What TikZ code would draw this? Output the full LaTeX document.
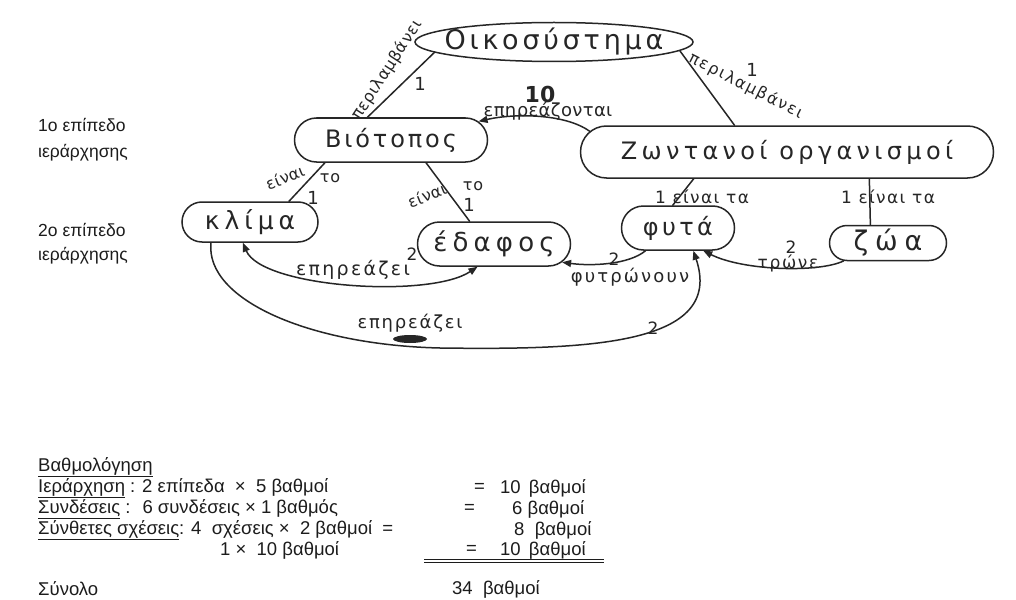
\documentclass[tikz,border=0pt]{standalone}
\usepackage{fontspec}
\setmainfont{Liberation Sans}
\newfontfamily\hand{DejaVu Sans}
\usetikzlibrary{shapes.geometric,shapes.misc,arrows.meta}
\definecolor{inkc}{HTML}{262626}
\definecolor{typec}{HTML}{1C1C1C}
\begin{document}
\begin{tikzpicture}[x=1pt,y=-1pt,
  ink/.style={draw=inkc,line width=1.5pt,line cap=round,line join=round},
  concept/.style={rounded rectangle,draw=inkc,line width=1.5pt,inner sep=0pt,text=inkc},
  hfont/.style 2 args={font=\hand\addfontfeature{LetterSpace=#2}\fontsize{#1}{#1}\selectfont},
  hlab/.style={inner sep=0pt,text=inkc},
  typed/.style={inner sep=0pt,anchor=west,text=typec,font=\fontsize{18.5}{21}\selectfont},
  caption/.style={typed,font=\fontsize{17.5}{20}\selectfont},
  toarrow/.style={-{Triangle[length=9pt,width=7pt]}},
  botharrow/.style={{Triangle[length=9pt,width=7pt]}-{Triangle[length=9pt,width=7pt]}},
]
\useasboundingbox[fill=white] (0,0) rectangle (1016,599);

% concepts
\node[ellipse,draw=inkc,line width=1.5pt,inner sep=0pt,text=inkc,hfont={27}{14},
      minimum width=278pt,minimum height=39pt] (oiko) at (554,42) {\makebox[0pt]{Οικοσύστημα}};
\node[concept,hfont={24}{12},minimum width=193pt,minimum height=44pt] (bio) at (391,140) {\makebox[0pt]{Βιότοπος}};
\node[concept,hfont={24}{18},minimum width=413pt,minimum height=52pt] (zoo) at (787,152) {\makebox[0pt]{Ζωντανοί οργανισμοί}};
\node[concept,hfont={25}{20},minimum width=136pt,minimum height=40pt] (klima) at (250,222) {\makebox[0pt]{κλίμα}};
\node[concept,hfont={26}{20},minimum width=153pt,minimum height=44pt] (edafos) at (494,244) {\makebox[0pt]{έδαφος}};
\node[concept,hfont={24}{14},minimum width=113pt,minimum height=44pt] (fyta) at (678,228) {\makebox[0pt]{φυτά}};
\node[concept,hfont={27}{25},minimum width=117pt,minimum height=35pt] (zwa) at (888,243) {\makebox[0pt]{ζώα}};

% hierarchy links
\draw[ink] (oiko.185) -- (bio.136);
\draw[ink] (oiko.-4) -- (zoo.153);
\draw[ink] (bio.199) -- (klima.28);
\draw[ink] (bio.-33) -- (edafos.137);
\draw[ink] (zoo.196.5) -- (fyta.103);
\draw[ink] (zoo.-18.4) -- (zwa.134);

% cross links
\draw[ink,toarrow] (zoo.174) .. controls +(-25,-18) and +(35,-8) .. (bio.12);
\draw[ink,botharrow] (edafos.234) .. controls +(-48,32) and +(19,45) .. (klima.251);
\draw[ink,toarrow] (fyta.215) .. controls +(-17,14) and +(29,4) .. (edafos.-15);
\draw[ink,toarrow] (zwa.202) .. controls +(-25,12) and +(40,20) .. (fyta.-42);
\coordinate (loopbot) at (440,348);
\draw[ink,toarrow] (klima.208) .. controls (205,300) and (310,345) .. (loopbot)
      .. controls (590,350) and (725,345) .. (fyta.-56);
\fill[inkc] (410,339) ellipse [x radius=17pt,y radius=4pt];

% link labels
\node[hlab,hfont={16}{4},rotate=57] (incl1) at (387,70) {περιλαμβάνει};
\node[hlab,hfont={16}{10},rotate=-27] (incl2) at (746,86) {περιλαμβάνει};
\node[hlab,hfont={18}{0}] (one1) at (420,84) {1};
\node[hlab,hfont={18}{0}] (one2) at (752,70) {1};
\node[hlab,font={\hand\bfseries\fontsize{22}{22}\selectfont}] (ten) at (540,94) {10};
\node[hlab,hfont={18}{2}] (aff1) at (548,111) {επηρεάζονται};
\node[hlab,hfont={16}{2},rotate=22] (is1) at (285,177) {είναι};
\node[hlab,hfont={16}{6}] (to1) at (330,178) {το};
\node[hlab,hfont={18}{0}] (one3) at (313,198) {1};
\node[hlab,hfont={16}{2},rotate=22] (is2) at (427,195) {είναι};
\node[hlab,hfont={16}{6}] (to2) at (473,186) {το};
\node[hlab,hfont={18}{0}] (one4) at (469,205) {1};
\node[hlab,hfont={17}{8}] (are1) at (702,197) {1 είναι τα};
\node[hlab,hfont={17}{8}] (are2) at (888,197) {1 είναι τα};
\node[hlab,hfont={19}{12}] (aff2) at (353,270) {επηρεάζει};
\node[hlab,hfont={17}{0}] (two1) at (412,254) {2};
\node[hlab,hfont={18}{12}] (grow) at (630,277) {φυτρώνουν};
\node[hlab,hfont={17}{0}] (two2) at (614,259) {2};
\node[hlab,hfont={17}{10}] (eat) at (788,263) {τρώνε};
\node[hlab,hfont={17}{0}] (two3) at (791,247) {2};
\node[hlab,hfont={18}{10}] (aff3) at (410,323) {επηρεάζει};
\node[hlab,hfont={17}{0}] (two4) at (653,328) {2};

% level captions
\node[caption] (lvl1a) at (38,125) {1ο επίπεδο};
\node[caption] (lvl1b) at (38,153) {ιεράρχησης};
\node[caption] (lvl2a) at (38,230) {2ο επίπεδο};
\node[caption] (lvl2b) at (38,256) {ιεράρχησης};

% scoring table
\node[typed] (sc0) at (38,467) {\underline{Βαθμολόγηση}};
\node[typed] (sc1) at (38,488) {\underline{Ιεράρχηση} : 2 επίπεδα \ × \ 5 βαθμοί};
\node[typed] (sc1e) at (474,488) {=};
\node[typed] (sc1v) at (500,488) {10 \,βαθμοί};
\node[typed] (sc2) at (38,509) {\underline{Συνδέσεις} : \ 6 συνδέσεις × 1 βαθμός};
\node[typed] (sc2e) at (464,509) {=};
\node[typed] (sc2v) at (512,509) {6 βαθμοί};
\node[typed] (sc3) at (38,530) {\underline{Σύνθετες σχέσεις}: 4 \ σχέσεις × \ 2 βαθμοί \ =};
\node[typed] (sc3v) at (514,530) {8 \ βαθμοί};
\node[typed] (sc4) at (220,550) {1 × \ 10 βαθμοί};
\node[typed] (sc4e) at (466,550) {=};
\node[typed] (sc4v) at (500,550) {10 \,βαθμοί};
\draw[typec,line width=0.8pt] (424,559.5) -- (604,559.5);
\draw[typec,line width=0.8pt] (424,562) -- (604,562);
\node[typed] (tot) at (38,589) {Σύνολο};
\node[typed] (totv) at (452,589) {34 \ βαθμοί};
\end{tikzpicture}
\end{document}
